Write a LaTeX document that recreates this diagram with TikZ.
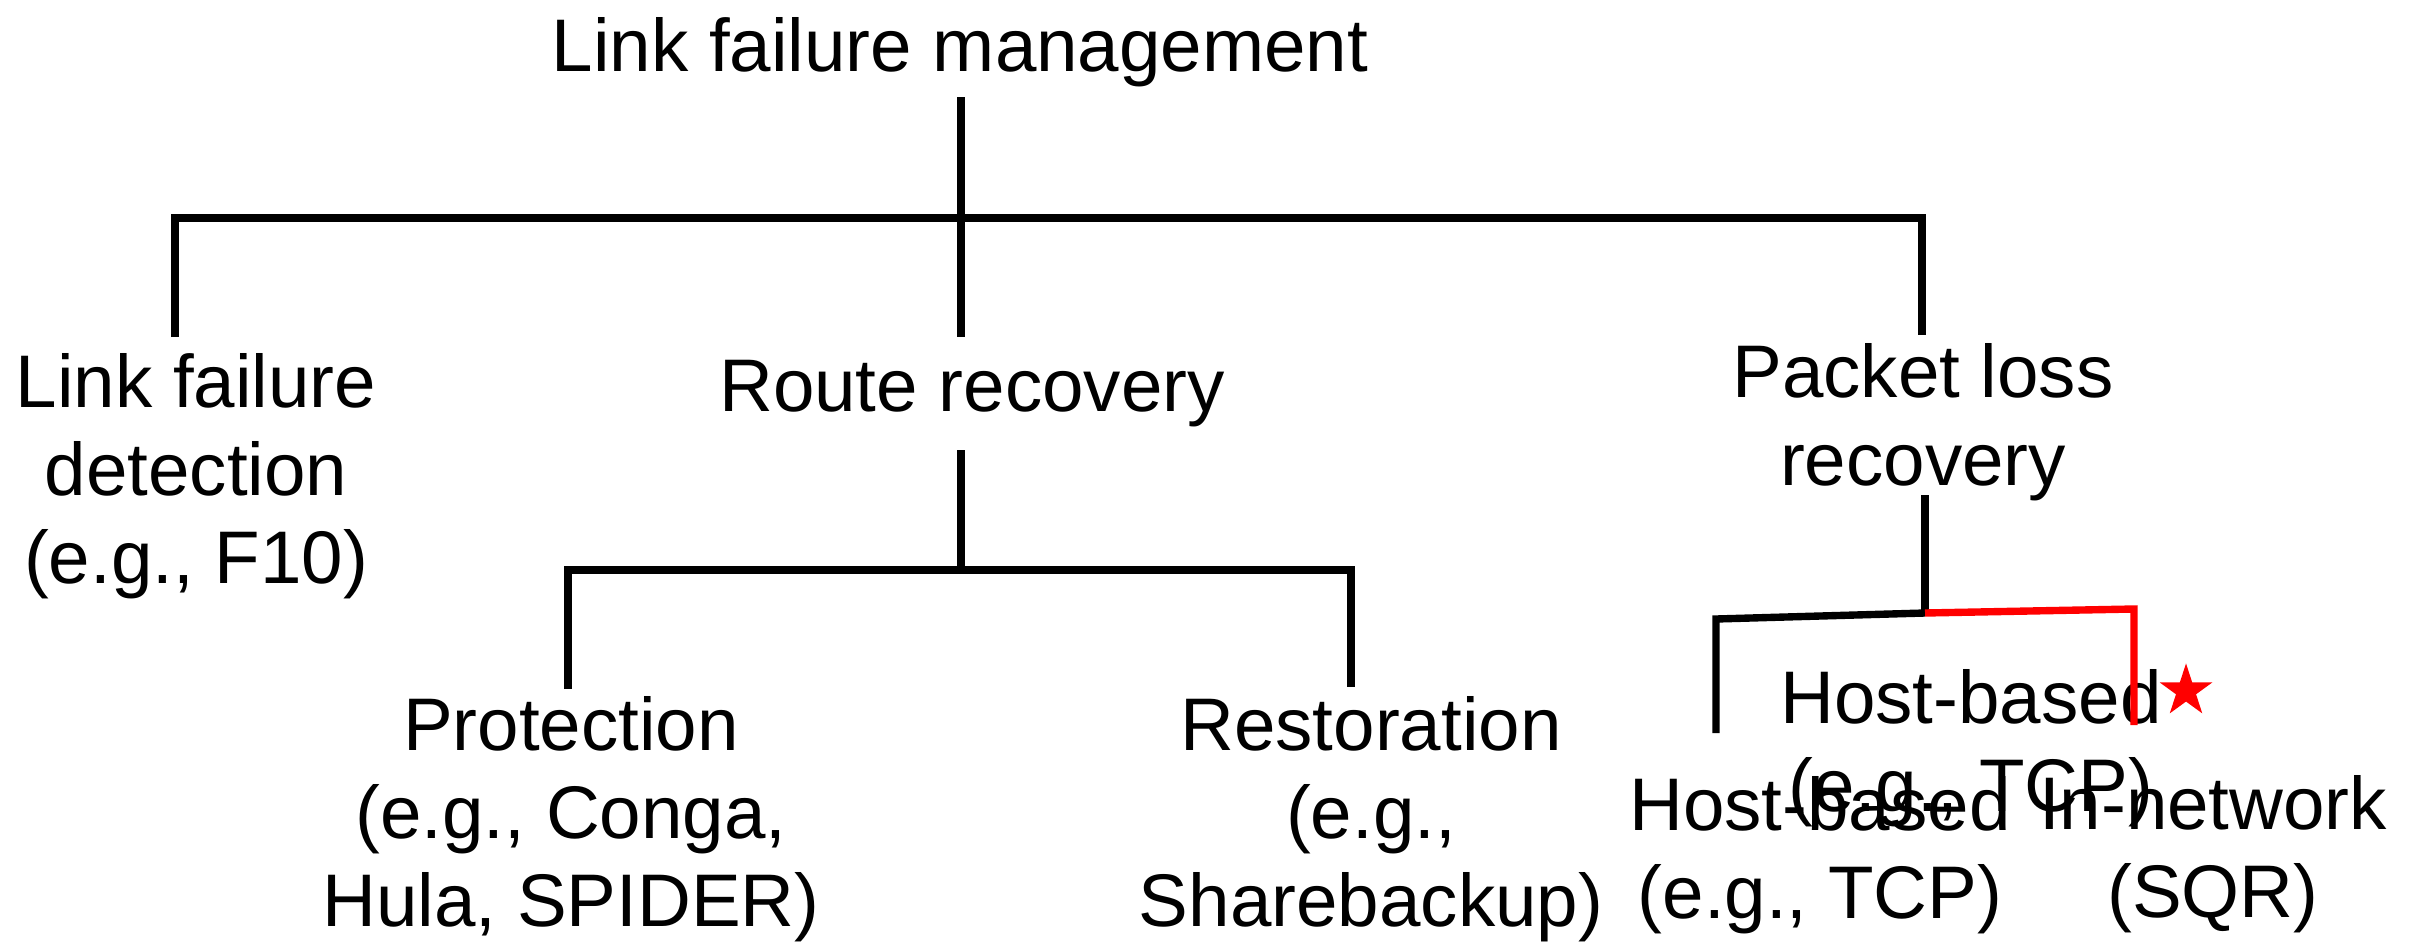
\documentclass[tikz,border=0pt]{standalone}
\usepackage{fontspec}
\setmainfont{Liberation Sans}
\usetikzlibrary{shapes.geometric}
\begin{document}
\begin{tikzpicture}[x=0.01cm, y=-0.01cm,
  lbl/.style={font=\fontsize{21.2pt}{25pt}\selectfont, align=center,
    anchor=base, inner sep=0pt},
  branch/.style={line width=2.1pt, line join=miter, line cap=butt},
  chosen/.style={branch, draw=red}]
\useasboundingbox (0,0) rectangle (2421,942);

% ---- labels (placed at the baseline of their last line) ----
\node[lbl] (lfm)  at (960,71)   {Link failure management};
\node[lbl] (lfd)  at (196,583)  {Link failure\\detection\\(e.g., F10)};
\node[lbl] (rr)   at (972,411)  {Route recovery};
\node[lbl] (plr)  at (1923,485) {Packet loss\\recovery};
\node[lbl] (prot) at (571,926)  {Protection\\(e.g., Conga,\\Hula, SPIDER)};
\node[lbl] (rest) at (1371,926) {Restoration\\(e.g.,\\Sharebackup)};
\node[lbl] (hbup) at (1971,811) {Host-based\\(e.g., TCP)};
\node[lbl] (hb)   at (1820,918) {Host-based\\(e.g., TCP)};
\node[lbl] (inn)  at (2213,917) {In-network\\(SQR)};
\node[star, star points=5, star point ratio=2.618, fill=red, draw=none,
  inner sep=0pt, minimum size=0.552cm] (mark) at (2186,691) {};

% ---- connector ends ----
\coordinate (lfm-s)  at (961,97);
\coordinate (lfd-n)  at (175,337);
\coordinate (rr-n)   at (961,337);
\coordinate (plr-n)  at (1922,335);
\coordinate (top-y)  at (0,218);
\coordinate (rr-s)   at (961,450);
\coordinate (prot-n) at (568,689);
\coordinate (rest-n) at (1351,687);
\coordinate (mid-y)  at (0,570);
\coordinate (plr-s)  at (1925,495);
\coordinate (plr-j)  at (1925,613);
\coordinate (hb-c)   at (1716,619);
\coordinate (hb-n)   at (1716,733);
\coordinate (inn-c)  at (2134,609);
\coordinate (inn-n)  at (2134,725);

% ---- first level ----
\draw[branch] (lfm-s) -- (rr-n);
\draw[branch] (lfd-n) |- (top-y -| plr-n) -- (plr-n);

% ---- route recovery ----
\draw[branch] (rr-s) -- (rr-s |- mid-y);
\draw[branch] (prot-n) |- (mid-y -| rest-n) -- (rest-n);

% ---- packet loss recovery ----
\draw[branch] (plr-s) -- (plr-j);
\draw[branch] (hb-n) -- (hb-c) -- (plr-j);
\draw[chosen] (plr-j) -- (inn-c) -- (inn-n);
\end{tikzpicture}
\end{document}
